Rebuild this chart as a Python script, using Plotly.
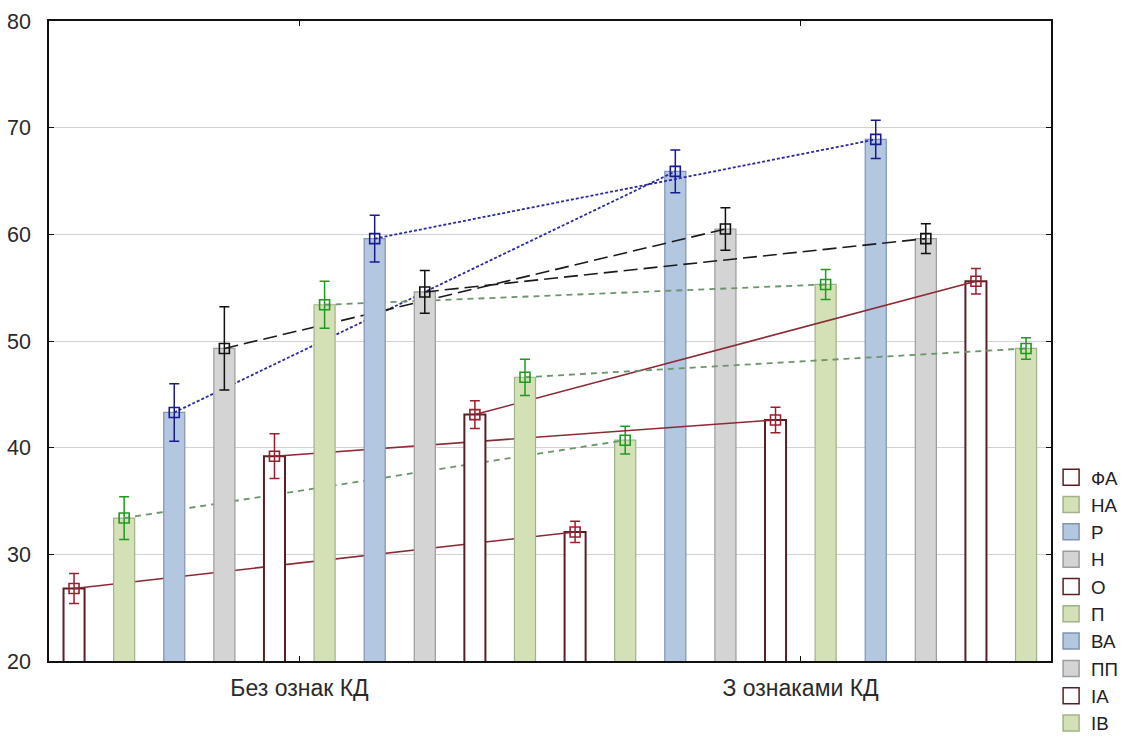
import plotly.graph_objects as go

# ---- data ----
series = ["ФА", "НА", "Р", "Н", "О", "П", "ВА", "ПП", "ІА", "ІВ"]
groups = ["Без ознак КД", "З ознаками КД"]
no_kd = [26.8, 33.4, 43.3, 49.3, 39.2, 53.4, 59.6, 54.6, 43.1, 46.6]
with_kd = [32.1, 40.7, 65.9, 60.5, 42.6, 55.3, 68.9, 59.6, 55.6, 49.3]
err_no_kd = [1.4, 2.0, 2.7, 3.9, 2.1, 2.2, 2.2, 2.0, 1.3, 1.7]
err_with_kd = [1.0, 1.3, 2.0, 2.0, 1.2, 1.4, 1.8, 1.4, 1.2, 1.0]
y_ticks = [20, 30, 40, 50, 60, 70, 80]

# ---- styles per series family ----
styles = {
    "red":   dict(fill="#ffffff", edge="#5a1f24", edge_w=2.0, mk="#9a1f2e",
                  line=dict(color="#8a2a35", width=1.6, dash="solid")),
    "green": dict(fill="#d4e0b6", edge="#a2b288", edge_w=1.2, mk="#1f9a1f",
                  line=dict(color="#6b946b", width=1.8, dash="6px,5px")),
    "blue":  dict(fill="#b3c7e0", edge="#8393b3", edge_w=1.2, mk="#1a1a90",
                  line=dict(color="#2a2aa0", width=1.8, dash="3px,2px")),
    "gray":  dict(fill="#d4d4d4", edge="#9c9c9c", edge_w=1.2, mk="#111111",
                  line=dict(color="#1a1a1a", width=1.6, dash="14px,6px")),
}
family = ["red", "green", "blue", "gray", "red", "green", "blue", "gray", "red", "green"]

n = len(series)
fig = go.Figure()

for i, name in enumerate(series):
    st = styles[family[i]]
    xa = "x" if i == 0 else f"x{i+1}"
    ya = "y" if i == 0 else f"y{i+1}"
    xs = [i, i + n]
    ys = [no_kd[i], with_kd[i]]
    fig.add_trace(go.Bar(
        x=xs, y=ys, width=0.42, xaxis=xa, yaxis=ya, showlegend=False,
        marker=dict(color=st["fill"], line=dict(color=st["edge"], width=st["edge_w"])),
        hoverinfo="skip",
    ))
    fig.add_trace(go.Scatter(
        x=xs, y=ys, xaxis=xa, yaxis=ya, mode="lines+markers", showlegend=False,
        line=st["line"],
        marker=dict(symbol="square-open", size=10, color=st["mk"], line=dict(width=1.6)),
        error_y=dict(type="data", array=[err_no_kd[i], err_with_kd[i]],
                     color=st["mk"], thickness=1.5, width=5),
    ))

# legend-only entries
for i, name in enumerate(series):
    st = styles[family[i]]
    fig.add_trace(go.Scatter(
        x=[None], y=[None], mode="markers", name=name,
        marker=dict(symbol="square", size=16, color=st["fill"],
                    line=dict(color=st["edge"], width=1.5)),
    ))

xrange = [-0.5, 2 * n - 0.5]
yrange = [20, 80]
layout = dict(
    width=1129, height=742,
    margin=dict(l=49, r=75, t=21, b=81),
    paper_bgcolor="white", plot_bgcolor="white",
    font=dict(family="Liberation Sans, Arial, sans-serif", color="#2a2a2a"),
    barmode="overlay",
    xaxis=dict(range=xrange, tickmode="array",
               tickvals=[(n - 1) / 2, n + (n - 1) / 2], ticktext=groups,
               tickfont=dict(size=23), showgrid=False, zeroline=False,
               showline=True, linecolor="#111", linewidth=1.5, mirror="ticks",
               ticks="inside", ticklen=5, tickcolor="#111", automargin=False,
               ticklabelstandoff=6),
    yaxis=dict(range=yrange, tickvals=y_ticks, tickfont=dict(size=21.5),
               showgrid=True, gridcolor="#d2d2d2", gridwidth=1, zeroline=False,
               showline=True, linecolor="#111", linewidth=1.5, mirror="ticks",
               ticks="inside", ticklen=5, tickcolor="#111", ticklabelstandoff=12,
               automargin=False),
    legend=dict(xref="container", yref="container", x=0.931, xanchor="left",
                y=0.382, yanchor="top",
                font=dict(size=18.7, color="#222"), bgcolor="rgba(0,0,0,0)",
                tracegroupgap=0),
    showlegend=True,
)
for i in range(1, n):
    layout[f"xaxis{i+1}"] = dict(overlaying="x", range=xrange, visible=False)
    layout[f"yaxis{i+1}"] = dict(overlaying="y", range=yrange, visible=False)

fig.update_layout(**layout)
fig.write_html("out.html", config={"displayModeBar": False},
               post_script="document.body.style.margin='0';document.body.style.overflow='hidden';")
